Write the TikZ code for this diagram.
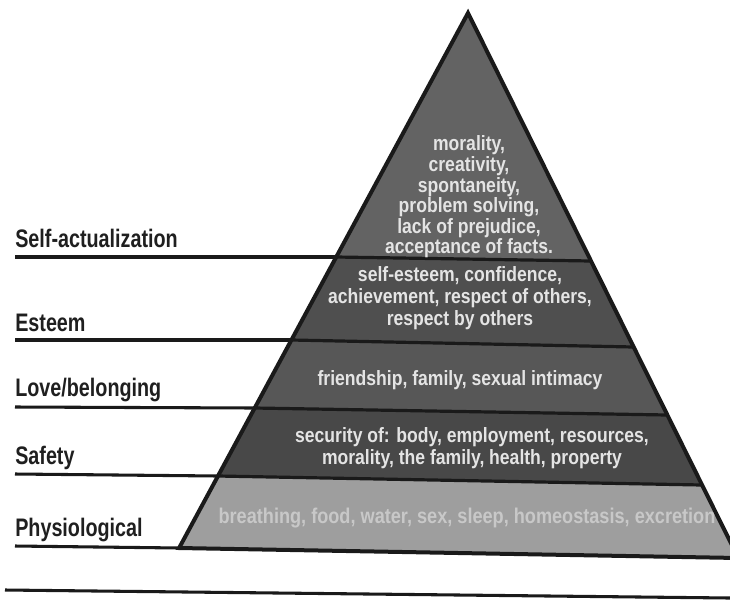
\documentclass[tikz,border=0pt]{standalone}
\usepackage{fontspec}
\newfontfamily\pyrfont{Liberation Sans}[FakeStretch=0.85]
\newfontfamily\levelfont{Liberation Sans}[FakeStretch=0.78]
\definecolor{tierA}{HTML}{636363}
\definecolor{tierB}{HTML}{4F4F4F}
\definecolor{tierC}{HTML}{575757}
\definecolor{tierD}{HTML}{484848}
\definecolor{tierE}{HTML}{9E9E9E}
\definecolor{inktext}{HTML}{E4E4E4}
\definecolor{faintink}{HTML}{C8C8C8}
\definecolor{labelink}{HTML}{1F1F1F}
\definecolor{rule}{HTML}{1A1A1A}
\begin{document}
\begin{tikzpicture}[x=0.75pt,y=-0.75pt,
  outline/.style={draw=rule,line width=3pt,line join=miter},
  divider/.style={draw=rule,line width=2.4pt},
  ruleline/.style={draw=rule,line width=2.3pt},
  levellabel/.style={font=\levelfont\bfseries\fontsize{19}{21}\selectfont,
    text=labelink,inner sep=0pt,anchor=base west},
  tiertext/.style={font=\pyrfont\bfseries\fontsize{15.5}{16.3}\selectfont,
    text=inktext,align=center,inner sep=0pt}]
\path[use as bounding box] (0,0) rectangle (730,600);
\clip (0,0) rectangle (730,600);
\fill[white] (0,0) rectangle (730,600);

% corners of the pyramid and the ends of each tier boundary
\coordinate (apex) at (468,13);
\coordinate (d1L) at (336.2,257);
\coordinate (d1R) at (591.0,261);
\coordinate (d2L) at (291.4,340);
\coordinate (d2R) at (633.7,347);
\coordinate (d3L) at (254.7,408);
\coordinate (d3R) at (667.4,415);
\coordinate (d4L) at (218.0,476);
\coordinate (d4R) at (702.1,485);
\coordinate (bL) at (179.1,548);
\coordinate (bR) at (738.3,558);

% tiers
\fill[tierA] (apex) -- (d1R) -- (d1L) -- cycle;
\fill[tierB] (d1L) -- (d1R) -- (d2R) -- (d2L) -- cycle;
\fill[tierC] (d2L) -- (d2R) -- (d3R) -- (d3L) -- cycle;
\fill[tierD] (d3L) -- (d3R) -- (d4R) -- (d4L) -- cycle;
\fill[tierE] (d4L) -- (d4R) -- (bR) -- (bL) -- cycle;

% tier boundaries
\draw[divider] (d1L) -- (d1R);
\draw[divider] (d2L) -- (d2R);
\draw[divider] (d3L) -- (d3R);
\draw[divider] (d4L) -- (d4R);
\draw[outline] (apex) -- (bL) -- (bR) -- cycle;

% label rules running out to the left
\coordinate (r1) at (15,257);
\coordinate (r2) at (15,340);
\coordinate (r3) at (15,407);
\coordinate (r4) at (15,474);
\coordinate (r5) at (15,546);
\draw[ruleline] (r1) -- (d1L);
\draw[ruleline] (r2) -- (d2L);
\draw[ruleline] (r3) -- (d3L);
\draw[ruleline] (r4) -- (d4L);
\draw[ruleline] (r5) -- (bL);

% rule under the figure
\coordinate (footL) at (5,590);
\coordinate (footR) at (730,598);
\draw[ruleline] (footL) -- (footR);

% level names
\node[levellabel] (selfact) at (15,247) {Self-actualization};
\node[levellabel] (esteem) at (15,331) {Esteem};
\node[levellabel] (love) at (15,396) {Love/belonging};
\node[levellabel] (safety) at (15,464) {Safety};
\node[levellabel] (physio) at (15,536) {Physiological};

% needs in each tier
\node[tiertext,font=\pyrfont\bfseries\fontsize{15.5}{14.2}\selectfont] (needsA) at (469,197) {morality,\\creativity,\\spontaneity,\\problem solving,\\lack of prejudice,\\acceptance of facts.};
\node[tiertext] (needsB) at (460,298) {self-esteem, confidence,\\achievement, respect of others,\\respect by others};
\node[tiertext] (needsC) at (460,380) {friendship, family, sexual intimacy};
\node[tiertext] (needsD) at (472,448) {security of: body, employment, resources,\\morality, the family, health, property};
\node[tiertext,text=faintink,font=\pyrfont\bfseries\fontsize{16}{17}\selectfont] (needsE) at (467,518) {breathing, food, water, sex, sleep, homeostasis, excretion};
\end{tikzpicture}
\end{document}
